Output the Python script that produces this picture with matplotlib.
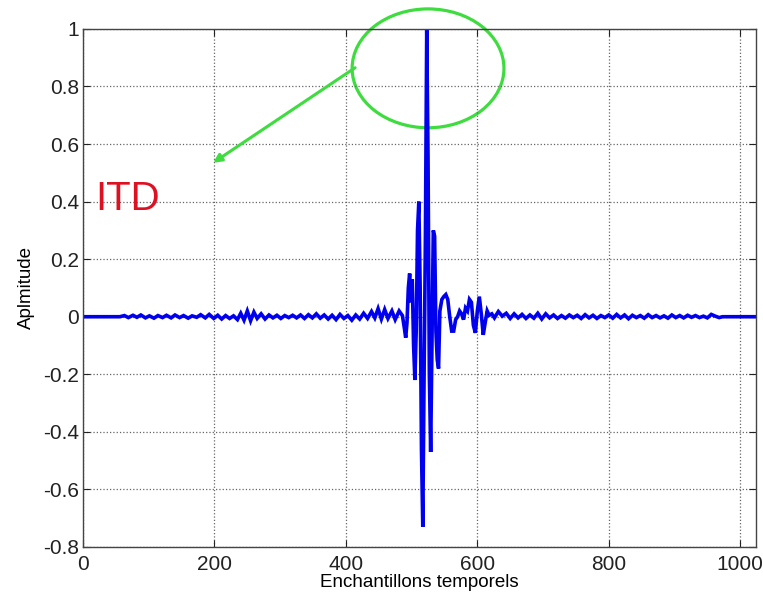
import matplotlib
matplotlib.use("Agg")
import matplotlib.pyplot as plt
from matplotlib.patches import Ellipse

plt.rcParams['font.family'] = ['Liberation Sans', 'DejaVu Sans']

# cross-correlation samples (index, amplitude)
samples = [0, 56, 63, 69, 76, 82, 88, 95, 101, 108, 114, 121, 127, 134, 140,
           147, 153, 160, 166, 173, 179, 186, 192, 199, 205, 211, 217, 223, 229,
           235, 240, 245, 250, 255, 260, 265, 271, 277, 283, 289, 295, 301, 307,
           313, 319, 325, 331, 337, 343, 349, 355, 361, 367, 373, 379, 385, 391,
           397, 403, 409, 415, 421, 427, 433, 439, 444, 449, 454, 459, 464, 470,
           475, 481, 486,
           489, 491, 493, 495, 497, 499, 501, 503, 505, 507, 509, 511, 513, 515,
           517, 519, 521, 523, 525, 527, 529, 531, 533, 535, 537, 539, 541, 543,
           546, 549, 552, 555, 558, 561, 564, 567, 570, 573, 576, 579, 582, 585,
           588, 591, 594, 597, 600, 603, 606, 609, 612, 615, 618,
           622, 626, 632, 638, 644, 650, 656, 662, 668, 674, 680, 686, 692, 698,
           704, 710, 716, 722, 728, 734, 740, 746, 752, 758, 764, 770, 776, 782,
           788, 794, 800, 806, 812, 818, 824, 830, 836, 842, 848, 854, 860, 866,
           872, 878, 884, 890, 896, 902, 908, 914, 920, 926, 932, 938, 944, 950,
           956, 962, 968, 973, 1024]

amplitude = [0.0, 0.0, 0.004, -0.003, 0.005, -0.002, 0.006, -0.004, 0.003, -0.005,
             0.004, -0.003, 0.005, -0.004, 0.006, -0.003, 0.004, -0.005, 0.003,
             -0.002, 0.007, -0.004, 0.008, -0.006, 0.005, -0.008, 0.004, -0.006,
             0.003, -0.01, 0.012, -0.012, 0.02, -0.014, 0.016, -0.006, 0.01,
             -0.008, 0.006, -0.004, 0.005, -0.006, 0.004, -0.003, 0.005, -0.004,
             0.006, -0.006, 0.007, -0.004, 0.01, -0.005, 0.006, -0.008, 0.005,
             -0.01, 0.008, -0.006, 0.004, -0.012, 0.006, -0.008, 0.012, -0.006,
             0.018, -0.004, 0.028, -0.008, 0.025, -0.006, 0.02, -0.01, 0.02, 0.004,
             -0.04, -0.073, -0.02, 0.10, 0.15, 0.05, 0.13, -0.10, -0.22, -0.05,
             0.30, 0.40, 0.10, -0.46, -0.73, -0.2, 0.28, 1.0, 0.55, -0.2, -0.47,
             -0.1, 0.30, 0.28, -0.05, -0.15, -0.18, 0.02,
             0.06, 0.07, 0.077, 0.06, 0.0, -0.05, -0.05, -0.01, 0.0, 0.02, 0.01,
             -0.01, 0.03, 0.02, 0.06, 0.05, -0.03, -0.056, 0.02, 0.07, 0.01,
             -0.063, -0.02, 0.02, 0.005,
             0.01, -0.004, 0.018, 0.002, 0.012, -0.006, 0.01, -0.004, 0.008,
             -0.006, 0.006, -0.005, 0.012, -0.008, 0.01, -0.004, 0.006, -0.006,
             0.004, -0.005, 0.006, -0.003, 0.005, -0.006, 0.007, -0.004, 0.005,
             -0.006, 0.004, -0.003, 0.006, -0.005, 0.008, -0.004, 0.006, -0.007,
             0.005, -0.003, 0.004, -0.005, 0.007, -0.003, 0.004, -0.004, 0.003,
             -0.005, 0.006, -0.003, 0.004, -0.004, 0.005, -0.002, 0.004, -0.003,
             0.002, -0.004, 0.008, 0.002, -0.003, 0.0, 0.0]

x_ticks = [0, 200, 400, 600, 800, 1000]
y_ticks = [-0.8, -0.6, -0.4, -0.2, 0, 0.2, 0.4, 0.6, 0.8, 1]
y_ticklabels = ['-0.8', '-0.6', '-0.4', '-0.2', '0', '0.2', '0.4', '0.6', '0.8', '1']

fig = plt.figure(figsize=(7.63, 6.01), dpi=100)
ax = fig.add_axes([0.1088, 0.0899, 0.882, 0.862])

ax.plot(samples, amplitude, color='#0000ee', linewidth=2.6, solid_joinstyle='miter')

ax.set_xlim(0, 1024)
ax.set_ylim(-0.8, 1)
ax.set_xticks(x_ticks)
ax.set_yticks(y_ticks)
ax.set_yticklabels(y_ticklabels)
ax.tick_params(direction='in', length=5, labelsize=15, colors='#222222',
               top=True, right=True, pad=3)
ax.tick_params(axis='x', pad=6)
ax.grid(True, linestyle=':', color='#666666', linewidth=0.9)
for sp in ax.spines.values():
    sp.set_color('#444444')
    sp.set_linewidth(1.0)

ax.set_xlabel('Enchantillons temporels', fontsize=13.5, labelpad=0)
ax.set_ylabel('Aplmitude', fontsize=13.5, labelpad=6)

# highlight the main lobe and label it
green = '#3fdc3f'
ax.add_patch(Ellipse((525, 0.863), 231, 0.413, fill=False, edgecolor=green,
                     linewidth=2.3, clip_on=False))
ax.annotate('', xy=(198, 0.535), xytext=(414, 0.865),
            arrowprops=dict(arrowstyle='-|>', color=green, lw=2.2,
                            mutation_scale=12, shrinkA=0, shrinkB=0))
ax.text(18, 0.37, 'ITD', color='#dd1122', fontsize=29)

fig.savefig('out.png', dpi=100)
